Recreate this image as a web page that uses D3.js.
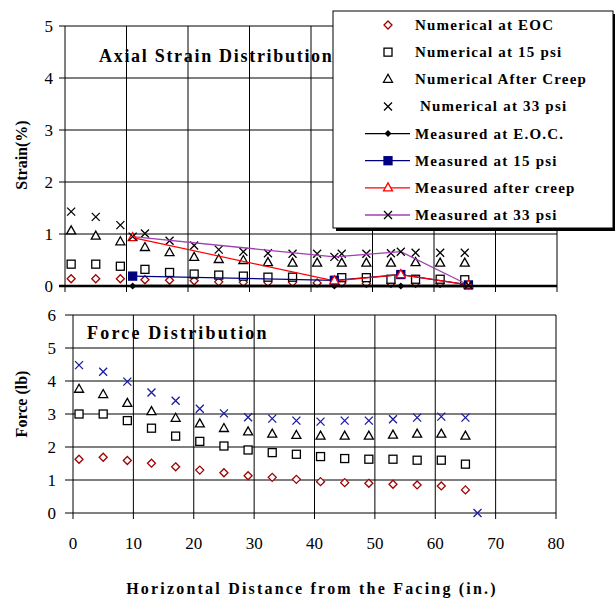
<!DOCTYPE html>
<html>
<head>
<meta charset="utf-8">
<script src="https://cdn.jsdelivr.net/npm/d3@7"></script>
<style>
  body { margin: 0; background: #fff; }
  svg text { font-family: "Liberation Serif", "Times New Roman", serif; }
</style>
</head>
<body>
<svg id="chart" width="615" height="600"></svg>
<script>
// x positions of the numerical points (in.)
const xNum = [1, 5, 9, 13, 17, 21, 25, 29, 33, 37, 41, 45, 49, 53, 57, 61, 65];

// Axial strain (%) - numerical
const strainEOC   = [0.14, 0.14, 0.14, 0.12, 0.11, 0.10, 0.08, 0.07, 0.07, 0.07, 0.06, 0.06, 0.05, 0.05, 0.05, 0.05, 0.04];
const strain15    = [0.42, 0.42, 0.38, 0.32, 0.26, 0.23, 0.21, 0.19, 0.17, 0.17, null, 0.16, 0.16, 0.13, 0.13, 0.13, 0.12];
const strainCreep = [1.06, 0.96, 0.85, 0.74, 0.64, 0.55, 0.51, 0.49, 0.45, 0.44, 0.44, 0.44, 0.44, 0.44, 0.45, 0.44, 0.44];
const strain33    = [1.43, 1.33, 1.17, 1.01, 0.87, 0.78, 0.70, 0.66, 0.63, 0.62, 0.62, 0.62, 0.62, 0.63, 0.64, 0.64, 0.64];

// Axial strain (%) - measured
const xMeas     = [11, 43.8, 54.6, 65.6];
const measEOC   = [0, 0, 0, 0];
const meas15    = [0.19, 0.11, 0.22, 0.02];
const measCreep = [0.93, 0.10, 0.22, 0.02];
const meas33    = [0.95, 0.56, 0.66, 0.02];

// Force (lb)
const xForce33   = [1, 5, 9, 13, 17, 21, 25, 29, 33, 37, 41, 45, 49, 53, 57, 61, 65, 67];
const forceEOC   = [1.63, 1.69, 1.59, 1.51, 1.40, 1.30, 1.22, 1.13, 1.08, 1.02, 0.95, 0.92, 0.90, 0.87, 0.85, 0.82, 0.70];
const force15    = [3.00, 3.00, 2.80, 2.57, 2.33, 2.17, 2.03, 1.91, 1.83, 1.78, 1.71, 1.65, 1.63, 1.63, 1.60, 1.60, 1.48];
const forceCreep = [3.75, 3.59, 3.32, 3.07, 2.87, 2.70, 2.56, 2.46, 2.39, 2.35, 2.33, 2.33, 2.33, 2.36, 2.39, 2.39, 2.33];
const force33    = [4.48, 4.28, 3.98, 3.65, 3.40, 3.16, 3.02, 2.90, 2.86, 2.80, 2.77, 2.80, 2.80, 2.84, 2.89, 2.92, 2.89, 0];

const xTicks = [0, 10, 20, 30, 40, 50, 60, 70, 80];
const legendLabels = [
  'Numerical at EOC', 'Numerical at 15 psi', 'Numerical After Creep', ' Numerical at 33 psi',
  'Measured at E.O.C.', 'Measured at 15 psi', 'Measured after creep', 'Measured at 33 psi'
];

const svg = d3.select('#chart');

// marker drawing helper
function marker(g, type, x, y, color, fill) {
  const s = 4;
  if (type === 'diamond') {
    g.append('path').attr('d', `M${x},${y - s}L${x + s},${y}L${x},${y + s}L${x - s},${y}Z`)
      .attr('fill', fill || '#fff').attr('stroke', color).attr('stroke-width', 1.3);
  } else if (type === 'square') {
    g.append('rect').attr('x', x - s).attr('y', y - s).attr('width', 2 * s).attr('height', 2 * s)
      .attr('fill', fill || '#fff').attr('stroke', color).attr('stroke-width', 1.3);
  } else if (type === 'triangle') {
    g.append('path').attr('d', `M${x},${y - s - 1}L${x + s + 0.5},${y + s - 1}L${x - s - 0.5},${y + s - 1}Z`)
      .attr('fill', fill || '#fff').attr('stroke', color).attr('stroke-width', 1.3);
  } else if (type === 'x') {
    g.append('path').attr('d', `M${x - s},${y - s}L${x + s},${y + s}M${x - s},${y + s}L${x + s},${y - s}`)
      .attr('stroke', color).attr('stroke-width', 1.3);
  } else if (type === 'dot') {
    g.append('path').attr('d', `M${x},${y - 3.5}L${x + 3.5},${y}L${x},${y + 3.5}L${x - 3.5},${y}Z`)
      .attr('fill', color);
  }
}

function drawPanel(opts) {
  const { x, y, yTicks, tickLen } = opts;
  const g = svg.append('g');
  const [x0, x1] = x.range();
  const [y0, y1] = y.range();

  // horizontal gridlines + ticks
  g.selectAll('.hg').data(yTicks).enter().append('line')
    .attr('x1', x0 - tickLen).attr('x2', x1)
    .attr('y1', d => y(d)).attr('y2', d => y(d))
    .attr('stroke', '#000').attr('stroke-width', 1);
  // vertical gridlines + ticks
  g.selectAll('.vg').data(xTicks).enter().append('line')
    .attr('x1', d => x(d)).attr('x2', d => x(d))
    .attr('y1', y1).attr('y2', y0 + 6)
    .attr('stroke', '#000').attr('stroke-width', 1);

  g.selectAll('.yl').data(yTicks).enter().append('text')
    .attr('x', opts.labelX).attr('y', d => y(d) + 6)
    .attr('text-anchor', 'end').attr('font-size', 17).text(d => d);
  return g;
}

// ---------------- Top panel: axial strain ----------------
const xTop = d3.scaleLinear().domain([0, 80]).range([65, 557]);
const yTop = d3.scaleLinear().domain([0, 5]).range([286, 26]);
const gTop = drawPanel({ x: xTop, y: yTop, yTicks: [0, 1, 2, 3, 4, 5], tickLen: 6, labelX: 53 });

gTop.append('text').attr('x', 99).attr('y', 62).attr('font-size', 18).attr('font-weight', 'bold')
  .attr('letter-spacing', 1.7).text('Axial Strain Distribution');

gTop.append('text').attr('transform', 'translate(27,155) rotate(-90)')
  .attr('text-anchor', 'middle').attr('font-size', 16).attr('font-weight', 'bold').text('Strain(%)');

const numSeries = [
  { v: strainEOC, type: 'diamond', color: '#a00000' },
  { v: strain15, type: 'square', color: '#000' },
  { v: strainCreep, type: 'triangle', color: '#000' },
  { v: strain33, type: 'x', color: '#000' }
];
numSeries.forEach(s => {
  s.v.forEach((d, i) => { if (d != null) marker(gTop, s.type, xTop(xNum[i]), yTop(d), s.color); });
});

const measSeries = [
  { v: measEOC, type: 'dot', line: '#000', color: '#000', fill: '#000', w: 2.5 },
  { v: meas15, type: 'square', line: '#000080', color: '#000080', fill: '#000080', w: 1.3 },
  { v: measCreep, type: 'triangle', line: '#ff0000', color: '#ff0000', fill: null, w: 1.2 },
  { v: meas33, type: 'x', line: '#a040b0', color: '#000', fill: null, w: 1.3 }
];
const lineGen = d3.line().x(d => xTop(d[0])).y(d => yTop(d[1]));
measSeries.forEach(s => {
  gTop.append('path').attr('d', lineGen(xMeas.map((xx, i) => [xx, s.v[i]])))
    .attr('fill', 'none').attr('stroke', s.line).attr('stroke-width', s.w);
});
measSeries.forEach(s => {
  s.v.forEach((d, i) => marker(gTop, s.type, xTop(xMeas[i]), yTop(d), s.color, s.fill));
});
// heavy x axis line
gTop.append('line').attr('x1', xTop(0) - 6).attr('x2', xTop(80)).attr('y1', yTop(0)).attr('y2', yTop(0))
  .attr('stroke', '#000').attr('stroke-width', 2.5);

// legend
const lg = svg.append('g');
lg.append('rect').attr('x', 336).attr('y', 14).attr('width', 280).attr('height', 217).attr('fill', '#000');
lg.append('rect').attr('x', 333).attr('y', 11).attr('width', 280).attr('height', 217)
  .attr('fill', '#fff').attr('stroke', '#000').attr('stroke-width', 1);
const legendY = d3.scalePoint().domain(legendLabels).range([25, 215]);
const legendStyles = numSeries.concat(measSeries);
legendLabels.forEach((lab, i) => {
  const ly = legendY(lab);
  const st = legendStyles[i];
  if (i >= 4) {
    lg.append('line').attr('x1', 365).attr('x2', 410).attr('y1', ly).attr('y2', ly)
      .attr('stroke', st.line).attr('stroke-width', 1.3);
  }
  marker(lg, st.type, 388, ly, st.color, st.fill);
  lg.append('text').attr('x', 415).attr('y', ly + 5).attr('font-size', 15).attr('font-weight', 'bold')
    .attr('letter-spacing', 1.2).attr('xml:space', 'preserve').text(lab);
});

// ---------------- Bottom panel: force ----------------
const xBot = d3.scaleLinear().domain([0, 80]).range([73, 556]);
const yBot = d3.scaleLinear().domain([0, 6]).range([513, 315]);
const gBot = drawPanel({ x: xBot, y: yBot, yTicks: [0, 1, 2, 3, 4, 5, 6], tickLen: 8, labelX: 56 });

gBot.append('text').attr('x', 87).attr('y', 339).attr('font-size', 18).attr('font-weight', 'bold')
  .attr('letter-spacing', 2.2).text('Force Distribution');
gBot.append('text').attr('transform', 'translate(27,404) rotate(-90)')
  .attr('text-anchor', 'middle').attr('font-size', 16).attr('font-weight', 'bold').text('Force (lb)');

gBot.selectAll('.xl').data(xTicks).enter().append('text')
  .attr('x', d => xBot(d)).attr('y', 549).attr('text-anchor', 'middle').attr('font-size', 17).text(d => d);

const forceSeries = [
  { v: forceEOC, xs: xNum, type: 'diamond', color: '#a00000' },
  { v: force15, xs: xNum, type: 'square', color: '#000' },
  { v: forceCreep, xs: xNum, type: 'triangle', color: '#000' },
  { v: force33, xs: xForce33, type: 'x', color: '#1a1aa0' }
];
forceSeries.forEach(s => {
  s.v.forEach((d, i) => marker(gBot, s.type, xBot(s.xs[i]), yBot(d), s.color));
});

svg.append('text').attr('x', 312).attr('y', 594).attr('text-anchor', 'middle')
  .attr('font-size', 16).attr('font-weight', 'bold').attr('letter-spacing', 2.2)
  .text('Horizontal Distance from the Facing (in.)');
</script>
</body>
</html>
